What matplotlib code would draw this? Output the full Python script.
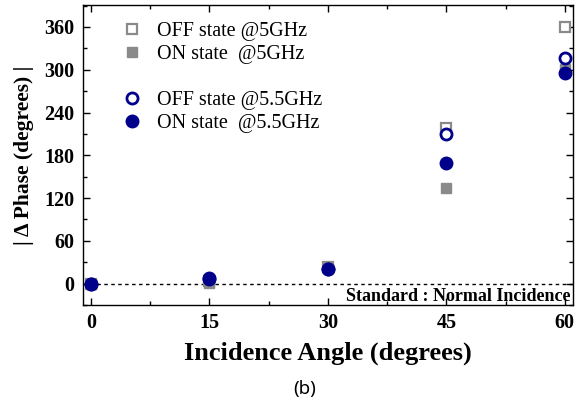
import matplotlib
matplotlib.use('Agg')
import matplotlib.pyplot as plt
from matplotlib.ticker import MultipleLocator
from matplotlib.lines import Line2D

# datos
angles = [0, 15, 30, 45, 60]
off_5 = [0, 3, 24, 218, 360]
on_5 = [0, 1, 22, 134, 301]
off_55 = [0, 7, 20, 210, 316]
on_55 = [0, 8, 20, 169, 295]

grey = '#8a8a8a'
navy = '#00008b'

plt.rcParams['font.family'] = 'serif'
plt.rcParams['font.serif'] = ['Liberation Serif', 'DejaVu Serif']

fig = plt.figure(figsize=(5.85, 4.04), dpi=100)
ax = fig.add_axes([0.142, 0.245, 0.837, 0.743])

ax.axhline(0, color='k', ls=(0, (2.5, 2.5)), lw=1.0, zorder=1)

h1, = ax.plot(angles, off_5, 's', ms=7, mfc='white', mec=grey, mew=1.6, ls='none',
              label='OFF state @5GHz', zorder=3)
h2, = ax.plot(angles, on_5, 's', ms=7, mfc=grey, mec=grey, ls='none',
              label='ON state  @5GHz', zorder=3)
h3, = ax.plot(angles, off_55, 'o', ms=8, mfc='white', mec=navy, mew=2.0, ls='none',
              label='OFF state @5.5GHz', zorder=4)
h4, = ax.plot(angles, on_55, 'o', ms=9, mfc=navy, mec=navy, ls='none',
              label='ON state  @5.5GHz', zorder=4)
blank = Line2D([], [], ls='none', marker='')

ax.legend([h1, h2, blank, h3, h4],
          [h1.get_label(), h2.get_label(), '', h3.get_label(), h4.get_label()],
          loc='upper left', bbox_to_anchor=(0.042, 1.005), frameon=False,
          fontsize=14.5, handletextpad=0.75, labelspacing=0.2, handlelength=1.0)

ax.set_xlim(-1, 61)
ax.set_ylim(-30, 391)
ax.set_xticks(angles)
ax.set_yticks(range(0, 361, 60))
ax.xaxis.set_minor_locator(MultipleLocator(7.5))
ax.yaxis.set_minor_locator(MultipleLocator(30))
ax.tick_params(which='both', direction='in', top=True, right=True, width=1.0)
ax.tick_params(which='major', length=5, labelsize=14.5, pad=6)
ax.tick_params(which='minor', length=3)
for lab in ax.get_xticklabels() + ax.get_yticklabels():
    lab.set_fontweight('bold')
for sp in ax.spines.values():
    sp.set_linewidth(1.0)

ax.text(0.995, 0.028, 'Standard : Normal Incidence', transform=ax.transAxes,
        ha='right', va='center', fontsize=13, fontweight='bold')

ax.set_xlabel('Incidence Angle (degrees)', fontsize=19, fontweight='bold', labelpad=6)
ax.set_ylabel('| \u0394 Phase (degrees) |', fontsize=15.5, fontweight='bold', labelpad=8)

fig.text(0.52, 0.037, '(b)', ha='center', va='center', fontsize=13.5, family='Noto Sans')

fig.savefig('out.png', dpi=100)
plt.close(fig)
